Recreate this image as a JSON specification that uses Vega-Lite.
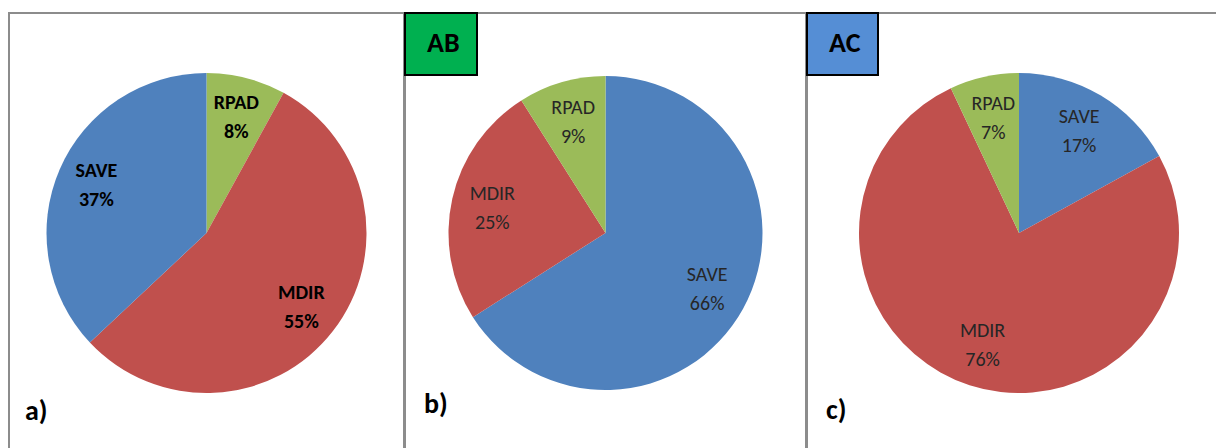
{
  "$schema": "https://vega.github.io/schema/vega-lite/v6.json",
  "padding": {"left": 8, "top": 11, "right": 0, "bottom": 0},
  "background": "white",
  "spacing": 1,
  "bounds": "flush",
  "config": {
    "view": {"stroke": "#8c8c8c", "strokeWidth": 2},
    "font": "Carlito, Lato, sans-serif",
    "legend": {"strokeWidth": 2}
  },
  "data": {
    "values": [
      {"p": "a", "cat": "RPAD", "v": 8, "k": 1, "lbl": "RPAD\n8%"},
      {"p": "a", "cat": "MDIR", "v": 55, "k": 2, "lbl": "MDIR\n55%"},
      {"p": "a", "cat": "SAVE", "v": 37, "k": 3, "lbl": "SAVE\n37%"},
      {"p": "b", "cat": "SAVE", "v": 66, "k": 1, "lbl": "SAVE\n66%", "grp": "AB"},
      {"p": "b", "cat": "MDIR", "v": 25, "k": 2, "lbl": "MDIR\n25%", "grp": "AB"},
      {"p": "b", "cat": "RPAD", "v": 9, "k": 3, "lbl": "RPAD\n9%", "grp": "AB"},
      {"p": "c", "cat": "SAVE", "v": 17, "k": 1, "lbl": "SAVE\n17%", "grp": "AC"},
      {"p": "c", "cat": "MDIR", "v": 76, "k": 2, "lbl": "MDIR\n76%", "grp": "AC"},
      {"p": "c", "cat": "RPAD", "v": 7, "k": 3, "lbl": "RPAD\n7%", "grp": "AC"}
    ]
  },
  "resolve": {
    "scale": {"color": "shared", "opacity": "independent", "theta": "independent"},
    "legend": {"opacity": "independent"}
  },
  "hconcat": [
    {
      "width": 395,
      "height": 440,
      "view": {"stroke": "#8c8c8c", "strokeWidth": 2},
      "transform": [{"filter": "datum.p === 'a'"}],
      "title": {"text": "a)", "orient": "bottom", "anchor": "start", "frame": "group", "offset": -55, "dx": 16, "fontSize": 28, "fontWeight": "bold", "color": "black"},
      "encoding": {
        "theta": {"field": "v", "type": "quantitative", "stack": true},
        "order": {"field": "k", "type": "quantitative"},
        "color": {"field": "cat", "type": "nominal", "scale": {"domain": ["SAVE", "MDIR", "RPAD"], "range": ["#4F81BD", "#C0504D", "#9BBB59"]}, "legend": null}
      },
      "layer": [
        {"mark": {"type": "arc", "outerRadius": 160}},
        {
          "mark": {"type": "text", "radius": 120, "lineBreak": "\n", "baseline": "middle", "dy": -14, "fontSize": 20, "fontWeight": "bold", "lineHeight": 29},
          "encoding": {"text": {"field": "lbl", "type": "nominal"}, "color": {"value": "#000000"}}
        }
      ]
    },
    {
      "width": 401,
      "height": 440,
      "view": {"stroke": "#8c8c8c", "strokeWidth": 2},
      "transform": [{"filter": "datum.p === 'b'"}],
      "title": {"text": "b)", "orient": "bottom", "anchor": "start", "frame": "group", "offset": -62, "dx": 19, "fontSize": 28, "fontWeight": "bold", "color": "black"},
      "encoding": {
        "theta": {"field": "v", "type": "quantitative", "stack": true},
        "order": {"field": "k", "type": "quantitative"},
        "color": {"field": "cat", "type": "nominal", "scale": {"domain": ["SAVE", "MDIR", "RPAD"], "range": ["#4F81BD", "#C0504D", "#9BBB59"]}, "legend": null}
      },
      "layer": [
        {
          "mark": {"type": "arc", "outerRadius": 157},
          "encoding": {
            "opacity": {
              "field": "grp", "type": "nominal", "scale": {"range": [1, 1]},
              "legend": {"title": null, "orient": "top-left", "offset": 0, "padding": 17, "fillColor": "#00B050", "strokeColor": "#000000", "labelFontSize": 28, "labelFontWeight": "bold", "labelColor": "#000000", "labelOffset": -23, "symbolSize": 0, "symbolOpacity": 0, "symbolStrokeWidth": 0}
            }
          }
        },
        {
          "mark": {"type": "text", "radius": 116, "lineBreak": "\n", "baseline": "middle", "dy": -14, "fontSize": 20, "lineHeight": 29},
          "encoding": {"text": {"field": "lbl", "type": "nominal"}, "color": {"value": "#262626"}}
        }
      ]
    },
    {
      "width": 424,
      "height": 440,
      "view": {"stroke": "#8c8c8c", "strokeWidth": 2},
      "transform": [{"filter": "datum.p === 'c'"}],
      "title": {"text": "c)", "orient": "bottom", "anchor": "start", "frame": "group", "offset": -56, "dx": 19, "fontSize": 28, "fontWeight": "bold", "color": "black"},
      "encoding": {
        "theta": {"field": "v", "type": "quantitative", "stack": true},
        "order": {"field": "k", "type": "quantitative"},
        "color": {"field": "cat", "type": "nominal", "scale": {"domain": ["SAVE", "MDIR", "RPAD"], "range": ["#4F81BD", "#C0504D", "#9BBB59"]}, "legend": null}
      },
      "layer": [
        {
          "mark": {"type": "arc", "outerRadius": 160},
          "encoding": {
            "opacity": {
              "field": "grp", "type": "nominal", "scale": {"range": [1, 1]},
              "legend": {"title": null, "orient": "top-left", "offset": 0, "padding": 17, "fillColor": "#558ED5", "strokeColor": "#000000", "labelFontSize": 28, "labelFontWeight": "bold", "labelColor": "#000000", "labelOffset": -23, "symbolSize": 0, "symbolOpacity": 0, "symbolStrokeWidth": 0}
            }
          }
        },
        {
          "mark": {"type": "text", "radius": 118, "lineBreak": "\n", "baseline": "middle", "dy": -14, "fontSize": 20, "lineHeight": 29},
          "encoding": {"text": {"field": "lbl", "type": "nominal"}, "color": {"value": "#262626"}}
        }
      ]
    }
  ]
}
